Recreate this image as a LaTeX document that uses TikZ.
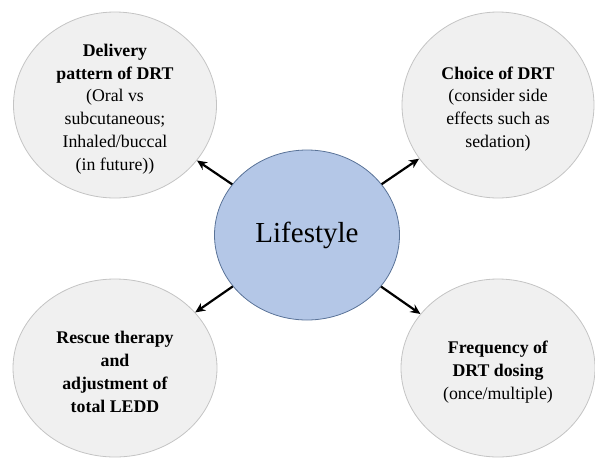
\documentclass[tikz,border=0pt]{standalone}
\usepackage{fontspec}
\setmainfont{Liberation Serif}
\newfontfamily\bubblefont{Liberation Serif}
\usetikzlibrary{shapes.geometric,arrows.meta}

\definecolor{bubblegray}{HTML}{F0F0F0}
\definecolor{bubbleline}{HTML}{C4C4C4}
\definecolor{lifeblue}{HTML}{B4C7E7}
\definecolor{lifeline}{HTML}{5A7398}

\tikzset{
	bubble/.style={ellipse, draw=bubbleline, fill=bubblegray, line width=0.8pt, inner sep=0pt},
	bubbletext/.style={align=center, inner sep=0pt, font=\bubblefont\fontsize{17.8}{22.8}\selectfont},
	hub/.style={ellipse, draw=lifeline, fill=lifeblue, line width=0.8pt, inner sep=0pt,
		minimum width=185pt, minimum height=170pt, font=\bubblefont\fontsize{29}{34}\selectfont},
	spoke/.style={-{Stealth[length=10pt,width=9pt]}, line width=2.2pt, black}
}

\begin{document}
\begin{tikzpicture}[x=1pt,y=-1pt]

	\useasboundingbox (0,0) rectangle (595,459);

	\node[hub] (life) at (307,235) {Lifestyle};

	% outer bubbles
	\node[bubble, minimum width=203pt, minimum height=186pt] (deliv) at (115,105) {};
	\node[bubble, minimum width=192pt, minimum height=186pt] (choice) at (498,105) {};
	\node[bubble, minimum width=204pt, minimum height=178pt] (rescue) at (115,368) {};
	\node[bubble, minimum width=194pt, minimum height=178pt] (freq) at (498,368) {};

	% texts of the bubbles
	\node[bubbletext] (deliv-txt) at ([yshift=-4pt]deliv.center)
		{\textbf{Delivery}\\\textbf{pattern of DRT}\\(Oral vs\\subcutaneous;\\Inhaled/buccal\\(in future))};
	\node[bubbletext] (choice-txt) at ([yshift=-4pt]choice.center)
		{\textbf{Choice of DRT}\\(consider side\\effects such as\\sedation)};
	\node[bubbletext] (rescue-txt) at ([yshift=-4pt]rescue.center)
		{\textbf{Rescue therapy}\\\textbf{and}\\\textbf{adjustment of}\\\textbf{total LEDD}};
	\node[bubbletext] (freq-txt) at ([yshift=-4pt]freq.center)
		{\textbf{Frequency of}\\\textbf{DRT dosing}\\(once/multiple)};

	\draw[spoke] (life) -- (deliv);
	\draw[spoke] (life) -- (choice);
	\draw[spoke] (life) -- (rescue);
	\draw[spoke] (life) -- (freq);

\end{tikzpicture}
\end{document}
